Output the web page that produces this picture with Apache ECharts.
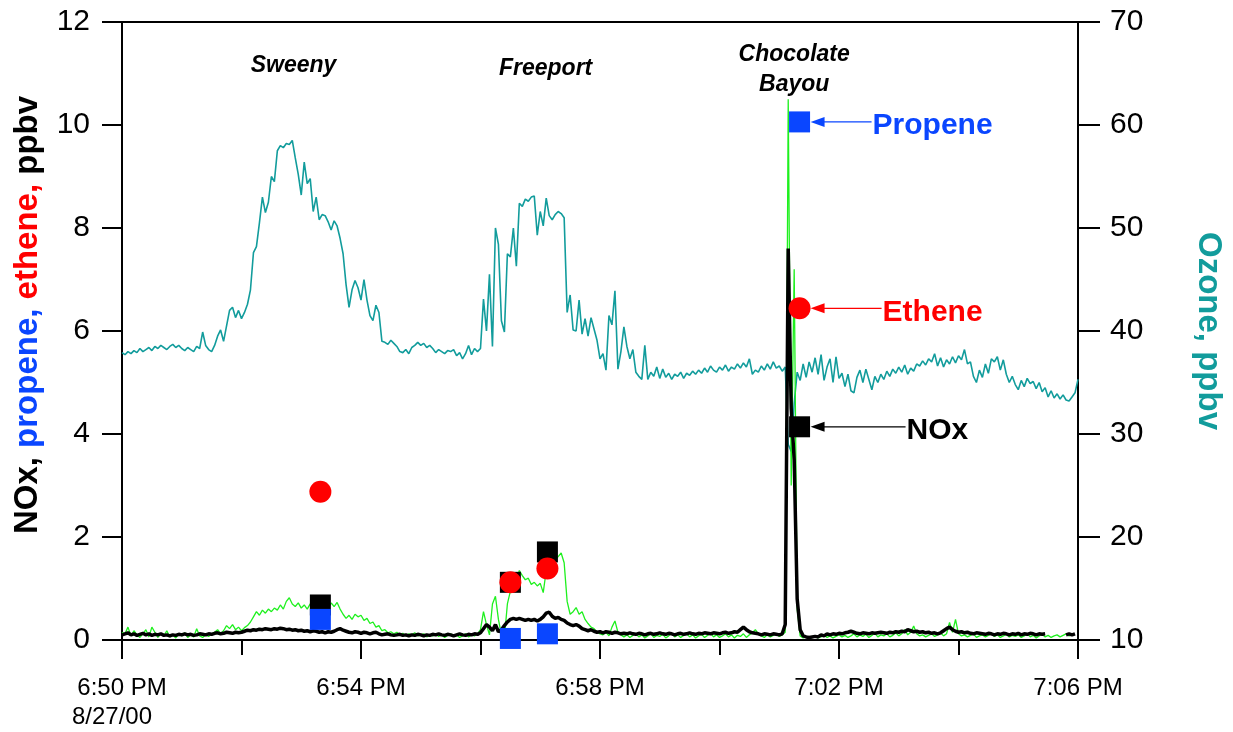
<!DOCTYPE html>
<html><head><meta charset="utf-8">
<script src="https://cdn.jsdelivr.net/npm/echarts@6/dist/echarts.min.js"></script>
<style>html,body{margin:0;padding:0;background:#fff}#c{width:1233px;height:732px}</style>
</head><body><div id="c"></div>
<script>
// ---------- DATA ----------
const STEP = 0.05; // minutes between samples (3 s), time measured from 6:50 PM
const xTickLabels = ['6:50 PM', '6:54 PM', '6:58 PM', '7:02 PM', '7:06 PM'];
const dateLabel = '8/27/00';

const ozone = [
37.9,37.7,38.0,37.8,38.1,37.9,38.3,38.0,38.2,38.4,
38.1,38.5,38.3,38.6,38.4,38.2,38.5,38.7,38.4,38.6,
38.3,38.1,38.4,38.2,38.0,38.5,38.3,39.9,38.6,38.2,
38.0,38.6,39.5,40.1,39.0,40.5,42.0,42.3,41.3,42.0,
41.2,41.8,42.6,44.0,47.6,48.2,50.5,53.0,51.5,52.5,
55.0,54.5,57.5,58.0,57.8,58.2,58.1,58.5,56.8,55.2,
53.2,56.4,54.3,54.8,51.6,53.0,50.8,51.3,51.2,50.6,
49.8,50.7,50.2,49.0,47.5,44.5,42.3,44.0,44.9,44.2,
43.0,45.0,43.0,41.5,41.0,42.5,41.8,39.0,38.9,38.7,
39.1,38.8,38.5,38.0,37.9,38.2,37.8,38.4,38.6,38.9,
38.6,38.8,38.4,38.6,38.3,37.9,38.2,38.0,37.8,38.1,
38.0,38.2,37.6,37.9,37.3,37.8,38.6,37.7,38.3,38.0,
38.3,43.1,40.0,45.5,38.5,50.0,48.4,41.0,39.9,47.5,
47.2,50.0,46.3,52.4,52.1,52.8,52.6,53.0,53.1,49.3,
51.6,50.2,52.9,51.2,50.8,51.3,51.6,51.4,51.0,41.8,
43.5,40.1,40.0,43.0,39.7,41.2,39.5,41.3,40.2,39.1,
37.3,37.8,36.2,41.5,40.6,43.9,36.3,38.0,40.4,38.5,
37.3,38.2,36.0,35.6,35.3,38.6,35.3,36.0,35.6,36.5,
35.4,36.3,35.5,35.9,35.3,35.8,35.6,36.0,35.4,35.9,
35.7,36.1,35.8,36.2,35.9,36.4,36.0,36.6,36.2,36.0,
36.5,36.2,36.7,36.1,36.5,36.3,36.8,36.4,36.9,36.5,
37.3,35.8,36.2,36.0,36.6,36.2,36.8,36.3,37.0,36.4,
36.6,36.1,36.5,29.0,28.3,33.0,36.0,35.2,36.8,35.5,
37.0,36.0,37.4,35.8,37.7,35.2,36.5,37.3,35.0,37.5,
35.4,35.9,34.6,35.8,34.2,34.0,35.5,36.2,35.0,36.3,
35.3,34.3,35.6,35.0,35.8,35.3,36.1,35.6,36.3,35.9,
36.5,36.0,36.7,35.8,36.4,36.1,36.8,36.6,37.1,36.7,
37.3,37.0,37.8,36.6,37.4,36.5,37.2,36.8,37.5,36.9,
37.6,37.2,38.2,36.8,37.0,35.6,35.0,36.2,35.5,36.8,
35.9,37.3,37.0,37.5,36.2,37.2,35.8,35.0,35.6,34.8,
34.3,35.2,34.6,35.4,34.9,35.1,34.4,35.0,34.1,34.5,
33.6,34.2,33.5,33.9,33.4,33.8,33.3,33.2,33.6,34.0,
35.3
];

const propeneTrace = [
0.15,0.12,0.25,0.08,0.18,0.1,0.05,0.12,0.2,0.06,
0.25,0.15,0.05,0.12,0.08,0.18,0.06,0.1,0.04,0.12,
0.08,0.14,0.05,0.1,0.06,0.22,0.08,0.05,0.1,0.07,
0.12,0.15,0.2,0.12,0.18,0.28,0.22,0.3,0.2,0.25,
0.18,0.24,0.28,0.35,0.45,0.55,0.48,0.58,0.52,0.6,
0.55,0.62,0.58,0.68,0.6,0.75,0.82,0.7,0.65,0.72,
0.62,0.68,0.6,0.7,0.64,0.6,0.66,0.58,0.62,0.6,
0.72,0.65,0.73,0.6,0.5,0.42,0.48,0.4,0.5,0.45,
0.48,0.38,0.42,0.32,0.35,0.25,0.28,0.18,0.2,0.14,
0.16,0.12,0.15,0.1,0.13,0.08,0.12,0.1,0.14,0.08,
0.1,0.12,0.06,0.1,0.08,0.12,0.07,0.1,0.05,0.09,
0.12,0.07,0.1,0.05,0.08,0.12,0.06,0.1,0.08,0.12,
0.2,0.55,0.3,0.1,0.7,0.85,0.4,0.1,0.05,0.7,
0.95,1.0,1.15,1.35,1.25,1.17,1.2,1.08,1.12,1.05,
1.1,0.92,1.35,1.3,1.46,1.55,1.62,1.69,1.5,0.75,
0.5,0.55,0.63,0.5,0.55,0.4,0.32,0.25,0.22,0.15,
0.12,0.1,0.15,0.08,0.25,0.37,0.15,0.1,0.06,0.1,
0.05,0.09,0.12,0.06,0.1,0.04,0.08,0.12,0.05,0.09,
0.07,0.11,0.04,0.08,0.13,0.06,0.1,0.05,0.09,0.12,
0.06,0.1,0.04,0.08,0.11,0.05,0.09,0.13,0.06,0.1,
0.05,0.08,0.12,0.06,0.1,0.04,0.09,0.07,0.12,0.05,
0.1,0.14,0.2,0.12,0.08,0.05,0.1,0.06,0.09,0.12,
0.07,0.1,0.15,10.5,3.0,7.2,0.6,0.08,0.04,0.06,
0.03,0.05,0.08,0.04,0.06,0.1,0.05,0.08,0.04,0.07,
0.1,0.06,0.09,0.05,0.08,0.12,0.06,0.1,0.07,0.11,
0.05,0.09,0.13,0.06,0.1,0.08,0.12,0.06,0.09,0.14,
0.08,0.12,0.2,0.1,0.15,0.27,0.12,0.08,0.1,0.06,
0.09,0.12,0.07,0.1,0.14,0.08,0.12,0.34,0.15,0.4,
0.12,0.08,0.1,0.06,0.09,0.12,0.05,0.08,0.1,0.06,
0.09,0.12,0.07,0.1,0.05,0.08,0.11,0.06,0.09,0.07,
0.1,0.05,0.08,0.12,0.06,0.09,0.04,0.08,0.11,0.06,
0.09,0.05,0.08,0.1,0.06,0.09,0.12,0.08,0.1,null,
null
];

const noxTrace = [
0.1,0.12,0.14,0.1,0.12,0.09,0.11,0.13,0.1,0.12,
0.09,0.11,0.1,0.12,0.09,0.1,0.08,0.1,0.09,0.11,
0.1,0.12,0.1,0.11,0.09,0.1,0.12,0.11,0.1,0.12,
0.11,0.13,0.14,0.12,0.13,0.15,0.14,0.13,0.15,0.14,
0.15,0.17,0.19,0.18,0.2,0.19,0.21,0.2,0.22,0.21,
0.2,0.22,0.21,0.23,0.22,0.2,0.21,0.19,0.2,0.18,
0.19,0.17,0.18,0.16,0.18,0.17,0.15,0.16,0.14,0.16,
0.15,0.17,0.2,0.22,0.19,0.17,0.15,0.14,0.16,0.15,
0.13,0.15,0.14,0.12,0.14,0.15,0.12,0.1,0.11,0.12,
0.1,0.09,0.1,0.11,0.09,0.1,0.08,0.1,0.09,0.11,
0.1,0.08,0.1,0.09,0.11,0.1,0.12,0.1,0.09,0.11,
0.1,0.08,0.1,0.12,0.1,0.09,0.11,0.1,0.12,0.11,
0.14,0.22,0.3,0.25,0.18,0.3,0.16,0.2,0.28,0.35,
0.4,0.42,0.4,0.42,0.4,0.38,0.4,0.38,0.4,0.37,
0.4,0.45,0.52,0.54,0.46,0.42,0.44,0.4,0.38,0.33,
0.3,0.28,0.3,0.27,0.22,0.2,0.18,0.2,0.17,0.15,
0.16,0.14,0.16,0.15,0.13,0.15,0.14,0.12,0.13,0.12,
0.14,0.12,0.11,0.13,0.12,0.1,0.12,0.13,0.11,0.12,
0.14,0.12,0.11,0.13,0.12,0.1,0.12,0.13,0.11,0.12,
0.14,0.12,0.11,0.13,0.12,0.14,0.13,0.12,0.14,0.13,
0.12,0.14,0.15,0.13,0.14,0.16,0.15,0.2,0.25,0.2,
0.16,0.14,0.13,0.12,0.1,0.12,0.11,0.1,0.12,0.11,
0.1,0.12,0.3,7.6,4.5,3.5,0.8,0.2,0.08,0.06,
0.05,0.06,0.07,0.06,0.1,0.08,0.12,0.1,0.12,0.11,
0.13,0.12,0.14,0.15,0.17,0.15,0.13,0.12,0.14,0.13,
0.12,0.14,0.13,0.14,0.15,0.14,0.13,0.15,0.14,0.16,
0.15,0.17,0.16,0.2,0.18,0.16,0.17,0.15,0.16,0.14,
0.15,0.13,0.14,0.12,0.14,0.18,0.22,0.25,0.2,0.17,
0.15,0.16,0.14,0.15,0.13,0.12,0.14,0.13,0.12,0.11,
0.13,0.12,0.1,0.12,0.11,0.13,0.12,0.1,0.12,0.11,
0.13,0.1,0.12,0.11,0.13,0.12,0.1,0.12,0.11,0.12,
null,null,null,null,null,null,0.1,0.12,0.1,0.12,
null
];

// canister samples
const sampleTimes    = [3.32, 6.5, 7.12, 11.34];
const noxSamples     = [0.68, 1.12, 1.71, 4.14];
const etheneSamples  = [2.88, 1.12, 1.39, 6.44];
const propeneSamples = [0.40, 0.03, 0.12, 10.06];

const siteNames = ['Sweeny', 'Freeport', 'Chocolate\nBayou'];
const siteTimes = [2.87, 7.09, 11.25];

// ---------- STYLE ----------
const FONT = 'Arial, "Liberation Sans", Helvetica, sans-serif';
const TEAL = '#129c9c', GREEN = '#1ef01e', BLUE = '#0a46ff', RED = '#ff0000';

const toPairs = arr => arr.map((v, i) => [Math.round(i * STEP * 100) / 100, v == null ? '-' : v]);
const pairs = (xs, ys) => xs.map((x, i) => [x, ys[i]]);

const chart = echarts.init(document.getElementById('c'), null, {renderer: 'canvas'});
const axisLine = {show: true, onZero: false, lineStyle: {color: '#000', width: 2}};

chart.setOption({
  animation: false,
  backgroundColor: '#fff',
  grid: {left: 122, right: 152, top: 22, bottom: 86, show: true, borderColor: '#000', borderWidth: 2, backgroundColor: 'transparent'},
  xAxis: [
    {type: 'value', min: 0, max: 16, interval: 2, position: 'bottom',
     axisLine: axisLine, axisTick: {show: true, inside: false, length: 15, lineStyle: {color: '#000', width: 2}},
     axisLabel: {show: false}, splitLine: {show: false}},
    {type: 'value', min: 0, max: 16, interval: 4, position: 'bottom', gridIndex: 0,
     axisLine: {show: false, onZero: false}, axisTick: {show: true, length: 19, lineStyle: {color: '#000', width: 2}},
     splitLine: {show: false},
     axisLabel: {show: true, margin: 34, color: '#000', fontFamily: FONT, fontSize: 24, lineHeight: 29,
       showMinLabel: true, showMaxLabel: true,
       formatter: v => { const k = Math.round(v / 4); return k === 0 ? xTickLabels[0] + '\n{d|' + dateLabel + '}' : xTickLabels[k]; },
       rich: {d: {fontFamily: FONT, fontSize: 24, color: '#000', padding: [0, 20, 0, 0], lineHeight: 29}}}}
  ],
  yAxis: [
    {type: 'value', min: 0, max: 12, interval: 2, position: 'left',
     axisLine: axisLine, axisTick: {show: true, length: 20, lineStyle: {color: '#000', width: 2}},
     axisLabel: {margin: 32, color: '#000', fontFamily: FONT, fontSize: 30},
     splitLine: {show: false},
     name: '{k|NOx, }{b|propene, }{r|ethene, }{k|ppbv}', nameLocation: 'middle', nameRotate: 90, nameGap: 78,
     nameTextStyle: {padding: [0, 0, 0, 32], rich: {
       k: {color: '#000', fontFamily: FONT, fontWeight: 'bold', fontSize: 33},
       b: {color: BLUE, fontFamily: FONT, fontWeight: 'bold', fontSize: 33},
       r: {color: RED, fontFamily: FONT, fontWeight: 'bold', fontSize: 33}}}},
    {type: 'value', min: 10, max: 70, interval: 10, position: 'right',
     axisLine: axisLine, axisTick: {show: true, length: 22, lineStyle: {color: '#000', width: 2}},
     axisLabel: {margin: 32, color: '#000', fontFamily: FONT, fontSize: 30},
     splitLine: {show: false},
     name: 'Ozone, ppbv', nameLocation: 'middle', nameRotate: -90, nameGap: 114,
     nameTextStyle: {color: TEAL, fontFamily: FONT, fontWeight: 'bold', fontSize: 33}}
  ],
  series: [
    {name: 'Ozone', type: 'line', xAxisIndex: 0, yAxisIndex: 1, data: toPairs(ozone), showSymbol: false, symbol: 'none',
     lineStyle: {color: TEAL, width: 1.6}, z: 2},
    {name: 'Propene', type: 'line', xAxisIndex: 0, yAxisIndex: 0, data: toPairs(propeneTrace), showSymbol: false, symbol: 'none',
     lineStyle: {color: GREEN, width: 1.3}, z: 3},
    {name: 'NOx', type: 'line', xAxisIndex: 0, yAxisIndex: 0, data: toPairs(noxTrace), showSymbol: false, symbol: 'none',
     lineStyle: {color: '#000', width: 3.5}, z: 4},
    {name: 'NOx sample', type: 'scatter', data: pairs(sampleTimes, noxSamples), symbol: 'rect', symbolSize: 21,
     itemStyle: {color: '#000', opacity: 1}, z: 10},
    {name: 'Ethene sample', type: 'scatter', data: pairs(sampleTimes, etheneSamples), symbol: 'circle', symbolSize: 22,
     itemStyle: {color: RED, opacity: 1}, z: 11},
    {name: 'Propene sample', type: 'scatter', data: pairs(sampleTimes, propeneSamples), symbol: 'rect', symbolSize: 21,
     itemStyle: {color: BLUE, opacity: 1}, z: 12}
  ]
});

// ---------- annotations ----------
const px = (t, v) => chart.convertToPixel({xAxisIndex: 0, yAxisIndex: 0}, [t, v]);
const graphics = [];
const siteY = [66, 69, 70];
siteNames.forEach((n, i) => {
  const p = px(siteTimes[i], 0);
  graphics.push({type: 'text', x: p[0], y: siteY[i], z: 50,
    style: {text: n, font: 'italic bold 23px ' + FONT, fill: '#000', textAlign: 'center', align: 'center',
            textVerticalAlign: 'middle', verticalAlign: 'middle', lineHeight: 30}});
});
const last = sampleTimes.length - 1;
const callouts = [
  {label: 'Propene', v: propeneSamples[last], color: BLUE, dx: 73},
  {label: 'Ethene', v: etheneSamples[last], color: RED, dx: 83},
  {label: 'NOx', v: noxSamples[last], color: '#000', dx: 107}
];
callouts.forEach(c => {
  const p = px(sampleTimes[last], c.v);
  const tip = p[0] + 11, y = p[1];
  graphics.push({type: 'line', z: 50, shape: {x1: tip + 13, y1: y, x2: p[0] + c.dx - 1, y2: y},
    style: {stroke: c.color, lineWidth: 1.3}});
  graphics.push({type: 'polygon', z: 50, shape: {points: [[tip, y], [tip + 14, y - 5], [tip + 14, y + 5]]},
    style: {fill: c.color}});
  graphics.push({type: 'text', z: 50, x: p[0] + c.dx, y: y + 4,
    style: {text: c.label, font: 'bold 30px ' + FONT, fill: c.color, textAlign: 'left', align: 'left',
            textVerticalAlign: 'middle', verticalAlign: 'middle'}});
});
chart.setOption({graphic: graphics});
</script>
</body></html>
